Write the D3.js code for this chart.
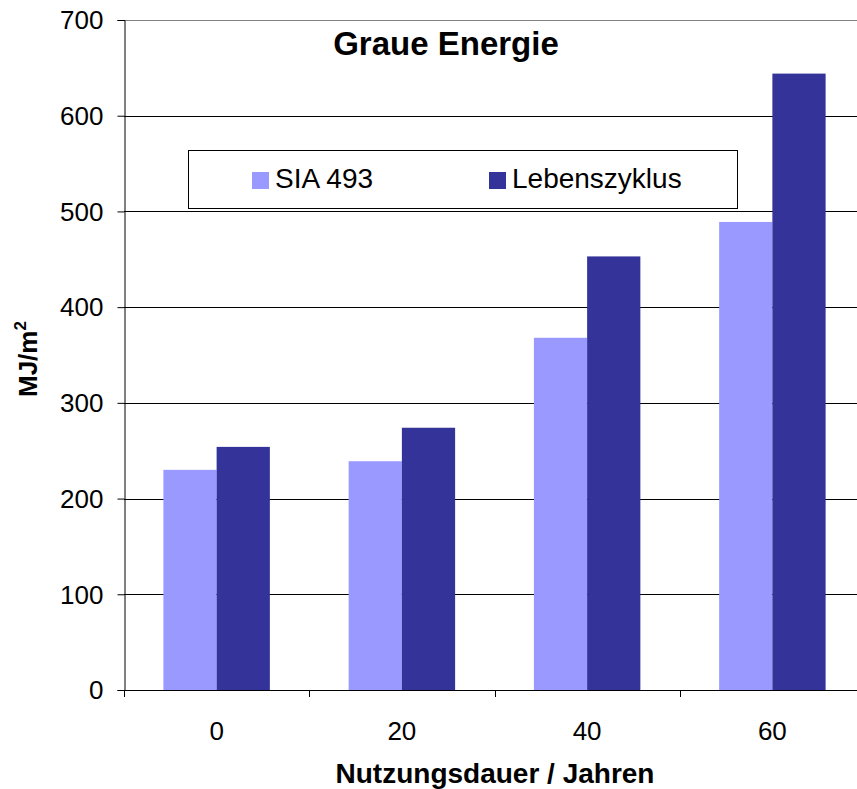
<!DOCTYPE html>
<html>
<head>
<meta charset="utf-8">
<script src="https://cdn.jsdelivr.net/npm/d3@7"></script>
<style>
  body { margin: 0; background: #fff; }
  svg { display: block; font-family: "Liberation Sans", Arial, sans-serif; }
</style>
</head>
<body>
<div id="chart"></div>
<script>
// Chart data
var categories = ["0", "20", "40", "60"];
var seriesNames = ["SIA 493", "Lebenszyklus"];
var siaValues = [230, 239, 368, 489];
var lebenValues = [254, 274, 453, 644];
var yTicks = [0, 100, 200, 300, 400, 500, 600, 700];

var colors = ["#9999FF", "#333399"];

var width = 857, height = 789;
var margin = { left: 124, top: 20, bottom: 99 };
var plotRight = 865;

var svg = d3.select("#chart").append("svg")
    .attr("width", width)
    .attr("height", height);

var x = d3.scaleBand()
    .domain(categories)
    .range([margin.left, plotRight]);

var xInner = d3.scaleBand()
    .domain(seriesNames)
    .range([0, x.bandwidth()])
    .paddingOuter(0.74)
    .paddingInner(0);

var y = d3.scaleLinear()
    .domain([0, 700])
    .range([height - margin.bottom, margin.top]);

// Gridlines
svg.append("g")
    .selectAll("line")
    .data(yTicks.filter(d => d > 0))
    .enter()
    .append("line")
    .attr("x1", margin.left)
    .attr("x2", plotRight)
    .attr("y1", d => Math.round(y(d)) + 0.5)
    .attr("y2", d => Math.round(y(d)) + 0.5)
    .attr("stroke", d => d === 700 ? "#808080" : "#000")
    .attr("stroke-width", 1);

// Bars
var rows = categories.map((c, i) => ({ cat: c, vals: [siaValues[i], lebenValues[i]] }));

var groups = svg.append("g")
    .selectAll("g")
    .data(rows)
    .enter()
    .append("g")
    .attr("transform", d => "translate(" + x(d.cat) + ",0)");

groups.selectAll("rect")
    .data(d => d.vals.map((v, j) => ({ name: seriesNames[j], value: v, j: j })))
    .enter()
    .append("rect")
    .attr("x", d => xInner(d.name))
    .attr("width", xInner.bandwidth())
    .attr("y", d => y(d.value))
    .attr("height", d => y(0) - y(d.value))
    .attr("fill", d => colors[d.j]);

// Y axis
var yAxis = d3.axisLeft(y)
    .tickValues(yTicks)
    .tickSize(7)
    .tickPadding(14);

var yG = svg.append("g")
    .attr("transform", "translate(" + (margin.left + 0.5) + ",0)")
    .call(yAxis);
yG.attr("font-size", null).attr("font-family", null);
yG.select(".domain").attr("stroke", "#000");
yG.selectAll(".tick line").attr("stroke", "#000");
yG.selectAll("text")
    .attr("font-size", "26px")
    .attr("dy", "0.34em")
    .attr("fill", "#000");

// X axis line and ticks at band edges
var xG = svg.append("g");
xG.append("line")
    .attr("x1", margin.left)
    .attr("x2", plotRight)
    .attr("y1", y(0) + 0.5)
    .attr("y2", y(0) + 0.5)
    .attr("stroke", "#000");
xG.selectAll("line.tk")
    .data(categories)
    .enter()
    .append("line")
    .attr("class", "tk")
    .attr("x1", d => Math.round(x(d)) + 0.5)
    .attr("x2", d => Math.round(x(d)) + 0.5)
    .attr("y1", y(0))
    .attr("y2", y(0) + 7)
    .attr("stroke", "#000");
xG.selectAll("text")
    .data(categories)
    .enter()
    .append("text")
    .attr("x", d => x(d) + x.bandwidth() / 2)
    .attr("y", 740)
    .attr("text-anchor", "middle")
    .attr("font-size", "26px")
    .text(d => d);

// Titles
svg.append("text")
    .attr("x", 446)
    .attr("y", 55)
    .attr("text-anchor", "middle")
    .attr("font-size", "33px")
    .attr("font-weight", "bold")
    .text("Graue Energie");

svg.append("text")
    .attr("x", 495)
    .attr("y", 783)
    .attr("text-anchor", "middle")
    .attr("font-size", "28px")
    .attr("font-weight", "bold")
    .text("Nutzungsdauer / Jahren");

var yTitle = svg.append("text")
    .attr("transform", "translate(37,397) rotate(-90)")
    .attr("text-anchor", "start")
    .attr("font-size", "26px")
    .attr("font-weight", "bold");
yTitle.append("tspan").text("MJ/m");
yTitle.append("tspan").attr("dy", -11).attr("font-size", "17px").text("2");

// Legend
var legend = svg.append("g");
legend.append("rect")
    .attr("x", 188.5)
    .attr("y", 150.5)
    .attr("width", 549)
    .attr("height", 58)
    .attr("fill", "#fff")
    .attr("stroke", "#000");

var legendX = [252, 489];
var items = legend.selectAll("g")
    .data(seriesNames)
    .enter()
    .append("g")
    .attr("transform", (d, i) => "translate(" + legendX[i] + ",172)");
items.append("rect")
    .attr("width", 17)
    .attr("height", 17)
    .attr("fill", (d, i) => colors[i]);
items.append("text")
    .attr("x", 23)
    .attr("y", 16)
    .attr("font-size", "28px")
    .text(d => d);
</script>
</body>
</html>
